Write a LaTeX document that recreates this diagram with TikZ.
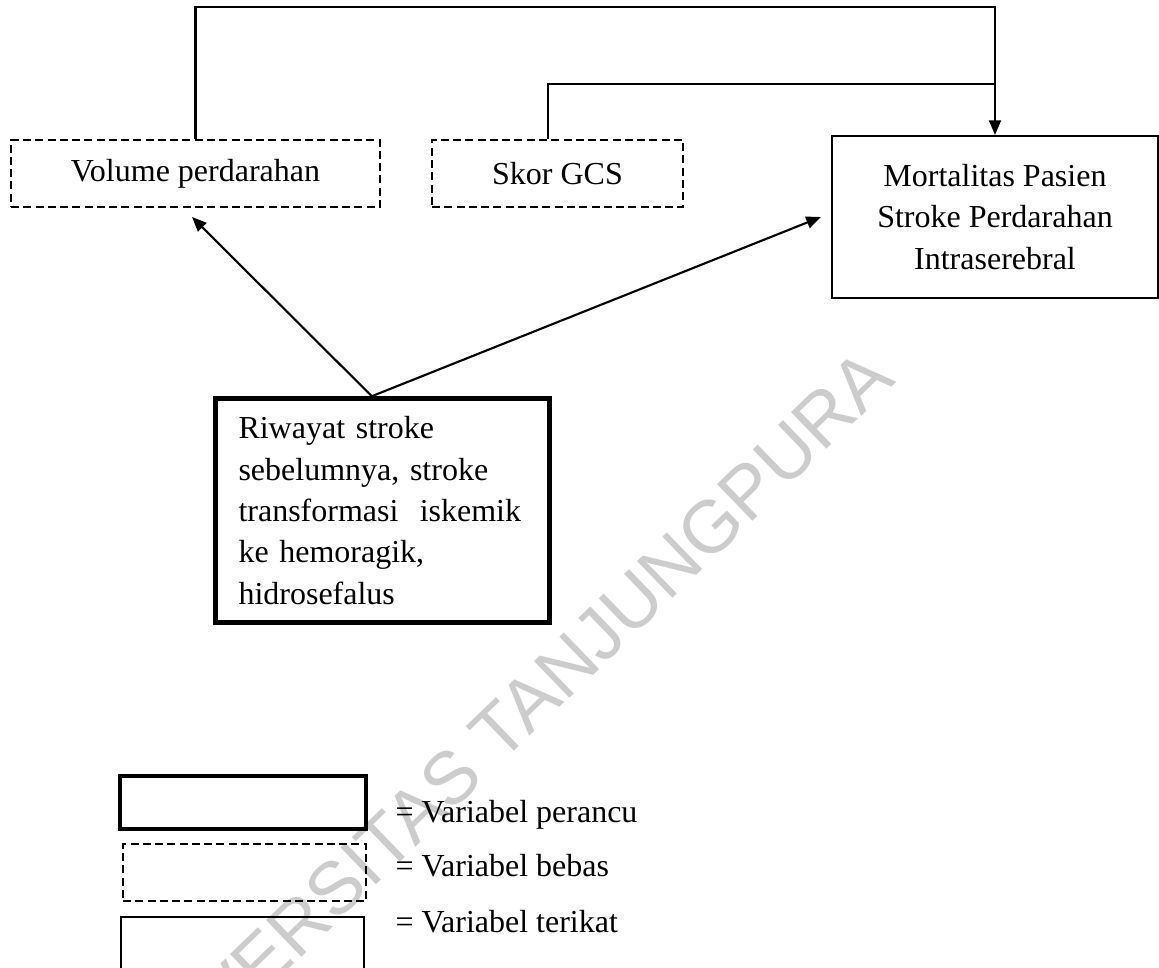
\documentclass[tikz,border=0pt]{standalone}
\usepackage{fontspec}
\setmainfont{Liberation Serif}
\newfontfamily\wmfont{Liberation Sans}
\usetikzlibrary{arrows.meta,positioning}

\tikzset{
  varbox/.style={draw, line width=0.8pt, inner sep=0pt, align=center,
    font=\fontsize{12}{15.5}\selectfont},
  freebox/.style={varbox, dash pattern=on 3pt off 1.6pt},
  confbox/.style={varbox, line width=1.7pt},
  legtxt/.style={inner sep=0pt, font=\fontsize{12}{15.5}\selectfont},
  arr/.style={-{Triangle[length=5.5pt,width=4.5pt]}, line width=0.8pt},
  link/.style={line width=0.8pt},
}

\begin{document}
\begin{tikzpicture}[x=0.375pt,y=-0.375pt]
\useasboundingbox (0,0) rectangle (1159,968);

% watermark
\begin{scope}
\clip (0,0) rectangle (1159,968);
\node[rotate=44, text=black!20, inner sep=0pt,
  font=\wmfont\fontsize{27.8}{30}\selectfont] (wm) at (498,732) {UNIVERSITAS TANJUNGPURA};
\end{scope}

% variables
\node[freebox, minimum width=138.4pt, minimum height=25.1pt] (vol) at (195.5,173.5) {Volume perdarahan};
\node[freebox, minimum width=94.1pt, minimum height=25.1pt] (gcs) at (557.5,173.5) {Skor GCS};
\node[varbox, minimum width=122.2pt, minimum height=60.75pt] (mort) at (995,217)
  {Mortalitas Pasien\\Stroke Perdarahan\\Intraserebral};
\node[confbox, minimum width=125.25pt, minimum height=84pt, text width=108pt, align=left] (riw) at (382.5,510.5)
  {Riwayat stroke\\sebelumnya, stroke\\transformasi\ \ iskemik\\ke hemoragik,\\hidrosefalus};

% connectors
\coordinate (topA) at (0,7);
\coordinate (topB) at (0,84);
\coordinate (volIn) at (192,217);
\coordinate (mortIn) at (821,217);
\draw[arr] (vol.north) |- (mort.north |- topA) -- (mort.north);
\draw[link] ([xshift=-3.5pt]gcs.north) |- (mort.north |- topB);
\draw[arr] ([xshift=-4pt]riw.north) -- (volIn);
\draw[arr] ([xshift=-4pt]riw.north) -- (mortIn);

% legend
\node[confbox, minimum width=92.25pt, minimum height=19.9pt] (kconf) at (243,802.5) {};
\node[freebox, minimum width=91.1pt, minimum height=21.4pt] (kfree) at (244.5,872.5) {};
\node[varbox, minimum width=91.1pt, minimum height=21pt] (kdep) at (242.5,945) {};
\node[legtxt, anchor=base west] (tconf) at (395,822) {= Variabel perancu};
\node[legtxt, anchor=base west] (tfree) at (395,876) {= Variabel bebas};
\node[legtxt, anchor=base west] (tdep) at (395,932) {= Variabel terikat};

\end{tikzpicture}
\end{document}
